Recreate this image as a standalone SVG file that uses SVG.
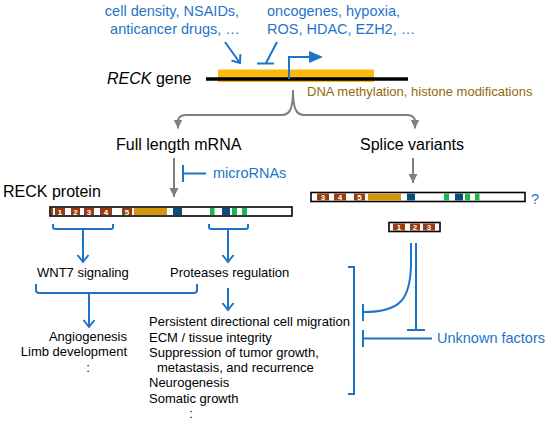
<svg xmlns="http://www.w3.org/2000/svg" width="550" height="424" viewBox="0 0 550 424">
<style>
text{font-family:"Liberation Sans",Arial,sans-serif;}
.blk{font-size:13px;fill:#000;}
.big{font-size:16px;fill:#000;}
.blu{font-size:14.5px;fill:#1F74C8;}
.brn{font-size:13px;fill:#94680A;}
.num{font-size:8px;fill:#fff;font-weight:bold;text-anchor:middle;}
.gl{fill:none;stroke:#808080;stroke-width:2;}
.bl{fill:none;stroke:#1F74C8;stroke-width:2;}
.bar{fill:#fff;stroke:#000;stroke-width:1.6;}
.d{fill:#9A3A0E;}
.g{fill:#D4960E;}
.b{fill:#0C4C7C;}
.gr{fill:#1DB64E;}
</style>
<defs>
<marker id="gh" markerUnits="userSpaceOnUse" markerWidth="10" markerHeight="10" refX="9" refY="5" orient="auto"><path d="M0,0.5 L9,5 L0,9.5 z" fill="#808080"/></marker>
<marker id="bv" markerUnits="userSpaceOnUse" markerWidth="12" markerHeight="14" refX="8" refY="7" orient="auto"><path d="M1,1.5 L8,7 L1,12.5" fill="none" stroke="#1F74C8" stroke-width="2"/></marker>
</defs>

<g id="gene">
<rect x="218" y="69.5" width="156" height="12.5" fill="#F9B90F"/>
<line x1="206" y1="79" x2="408" y2="79" stroke="#000" stroke-width="3.5"/>
<text class="big" x="107" y="84"><tspan font-style="italic">RECK</tspan> gene</text>
</g>

<g id="promoter">
<polyline class="bl" points="289,79 289,57 311,57"/>
<path d="M309,51 L323,57 L309,63 z" fill="#1F74C8"/>
</g>

<g id="activators">
<text class="blu" x="172" y="16" text-anchor="middle">cell density, NSAIDs,</text>
<text class="blu" x="175" y="34" text-anchor="middle">anticancer drugs, …</text>
</g>

<g id="repressors">
<text class="blu" x="267" y="16">oncogenes, hypoxia,</text>
<text class="blu" x="267" y="34">ROS, HDAC, EZH2, …</text>
</g>

<g id="epigenetic">
<text class="brn" x="307" y="96">DNA methylation, histone modifications</text>
</g>

<g id="mrna"><text class="big" x="116" y="150">Full length mRNA</text></g>
<g id="splice"><text class="big" x="360" y="150">Splice variants</text></g>
<g id="micro"><text class="blu" x="213" y="178">microRNAs</text></g>
<g id="protein-label"><text class="big" x="3" y="197">RECK protein</text></g>

<g id="protein">
<rect class="bar" x="50" y="207" width="242" height="9"/>
<rect class="d" x="51" y="208" width="2" height="7"/>
<rect class="d" x="55" y="208" width="10" height="7"/>
<rect class="d" x="71" y="208" width="9" height="7"/>
<rect class="d" x="84" y="208" width="10" height="7"/>
<rect class="d" x="100" y="208" width="12" height="7"/>
<rect class="d" x="122" y="208" width="10" height="7"/>
<rect class="g" x="134" y="208" width="33" height="7"/>
<rect class="b" x="173" y="208" width="9" height="7"/>
<rect class="gr" x="210" y="208" width="4.5" height="7"/>
<rect class="b" x="222" y="208" width="8" height="7"/>
<rect class="gr" x="232" y="208" width="5" height="7"/>
<rect class="gr" x="242" y="208" width="5" height="7"/>
<text class="num" x="60" y="214.5">1</text>
<text class="num" x="75.5" y="214.5">2</text>
<text class="num" x="89" y="214.5">3</text>
<text class="num" x="106" y="214.5">4</text>
<text class="num" x="127" y="214.5">5</text>
</g>

<g id="splice-variant">
<rect class="bar" x="311" y="192.5" width="214" height="9"/>
<rect class="d" x="317" y="193.5" width="12" height="7"/>
<rect class="d" x="334" y="193.5" width="12" height="7"/>
<rect class="d" x="354" y="193.5" width="11" height="7"/>
<rect class="g" x="368" y="193.5" width="33" height="7"/>
<rect class="b" x="407" y="193.5" width="8" height="7"/>
<rect class="gr" x="444" y="193.5" width="5" height="7"/>
<rect class="b" x="455" y="193.5" width="8" height="7"/>
<rect class="gr" x="465" y="193.5" width="5" height="7"/>
<rect class="gr" x="475" y="193.5" width="4.5" height="7"/>
<text class="num" x="323" y="200">3</text>
<text class="num" x="340" y="200">4</text>
<text class="num" x="359.5" y="200">5</text>
<text class="blu" x="531" y="204" font-size="16">?</text>
</g>

<g id="short-variant">
<rect class="bar" x="389" y="222.5" width="51" height="9"/>
<rect class="d" x="393" y="223.5" width="12" height="7"/>
<rect class="d" x="410" y="223.5" width="10" height="7"/>
<rect class="d" x="423" y="223.5" width="12" height="7"/>
<text class="num" x="399" y="230">1</text>
<text class="num" x="415" y="230">2</text>
<text class="num" x="429" y="230">3</text>
</g>

<g id="wnt7"><text class="blk" x="37" y="277">WNT7 signaling</text></g>
<g id="proteases"><text class="blk" x="170" y="277">Proteases regulation</text></g>

<g id="outcomes-left">
<text class="blk" x="127" y="341" text-anchor="end">Angiogenesis</text>
<text class="blk" x="127" y="356" text-anchor="end">Limb development</text>
<text class="blk" x="88" y="372" text-anchor="middle">:</text>
</g>

<g id="outcomes-right">
<text class="blk" x="149" y="326">Persistent directional cell migration</text>
<text class="blk" x="149" y="342">ECM / tissue integrity</text>
<text class="blk" x="149" y="357">Suppression of tumor growth,</text>
<text class="blk" x="157" y="372">metastasis, and recurrence</text>
<text class="blk" x="149" y="387">Neurogenesis</text>
<text class="blk" x="149" y="403">Somatic growth</text>
<text class="blk" x="191" y="418" text-anchor="middle">:</text>
</g>

<g id="unknown"><text class="blu" x="437" y="343">Unknown factors</text></g>

<g id="connectors">
<!-- regulators on gene -->
<line class="bl" x1="225" y1="42" x2="240" y2="63" marker-end="url(#bv)"/>
<line class="bl" x1="277" y1="42" x2="266" y2="63"/>
<line class="bl" x1="257" y1="63.5" x2="274" y2="63.5"/>
<!-- gene brace -->
<path class="gl" d="M293,90 C293,108 290,115 282,115 L186,115 Q178,115 178,122 L178,128.5" marker-end="url(#gh)"/>
<path class="gl" d="M293,90 C293,108 296,115 304,115 L407,115 Q415,115 415,122 L415,128.5" marker-end="url(#gh)"/>
<!-- mRNA to protein -->
<line class="gl" x1="174" y1="158" x2="174" y2="197" marker-end="url(#gh)"/>
<line class="gl" x1="413" y1="158" x2="413" y2="183" marker-end="url(#gh)"/>
<!-- microRNA inhibition -->
<line class="bl" x1="183" y1="165" x2="183" y2="182"/>
<line class="bl" x1="183" y1="173.5" x2="206" y2="173.5"/>
<!-- braces under protein -->
<path class="bl" d="M53,224 L53,227 Q53,229 55,229 L111,229 Q113,229 113,227 L113,224"/>
<line class="bl" x1="83" y1="229" x2="83" y2="262" marker-end="url(#bv)"/>
<path class="bl" d="M209,224 L209,227 Q209,229 211,229 L246,229 Q248,229 248,227 L248,224"/>
<line class="bl" x1="228" y1="229" x2="228" y2="262" marker-end="url(#bv)"/>
<!-- brace under WNT7 / proteases -->
<path class="bl" d="M36,284 L36,290 Q36,293 39,293 L194,293 Q197,293 197,290 L197,284"/>
<line class="bl" x1="89" y1="293" x2="89" y2="327" marker-end="url(#bv)"/>
<line class="bl" x1="228" y1="288" x2="228" y2="310" marker-end="url(#bv)"/>
<!-- right bracket -->
<polyline class="bl" points="348,267 354,267 354,394 348,394"/>
<!-- short variant inhibitions -->
<path class="bl" d="M411,243 L411,262 C411,300 400,312 364,312"/>
<line class="bl" x1="363" y1="304" x2="363" y2="321"/>
<line class="bl" x1="416" y1="243" x2="416" y2="330"/>
<line class="bl" x1="407" y1="330" x2="425" y2="330"/>
<!-- unknown factors -->
<line class="bl" x1="363" y1="338.5" x2="432" y2="338.5"/>
<line class="bl" x1="363" y1="330" x2="363" y2="347"/>
</g>
</svg>
